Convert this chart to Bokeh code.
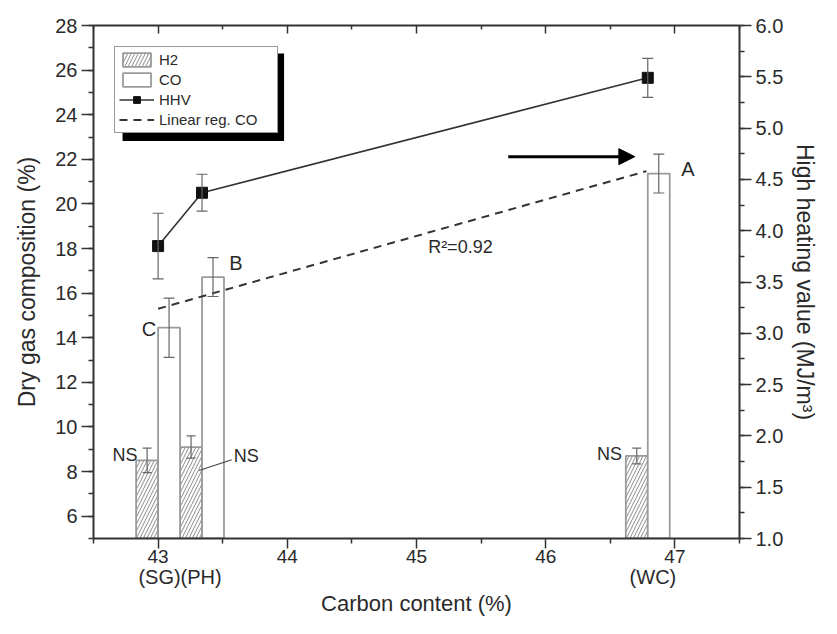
from bokeh.plotting import figure
from bokeh.models import (ColumnDataSource, Range1d, LinearAxis, FixedTicker, Whisker,
                          TeeHead, Label, Arrow, NormalHead, Legend, LegendItem,
                          PrintfTickFormatter)
from bokeh.transform import dodge
from bokeh.embed import file_html
from bokeh.resources import INLINE

# ---------------- data ----------------
samples = ["SG", "PH", "WC"]
carbon = [43.0, 43.34, 46.79]          # carbon content (%)
h2 = [8.5, 9.1, 8.7]                   # H2 (%)
h2_err = [0.55, 0.5, 0.35]
co = [14.45, 16.72, 21.36]             # CO (%)
co_err = [1.33, 0.87, 0.87]
hhv = [3.85, 4.37, 5.49]               # HHV (MJ/m3)
hhv_err = [0.32, 0.18, 0.19]
reg_x = [43.0, 46.78]                  # linear regression of CO
reg_y = [15.3, 21.47]

x_ticks = [43, 44, 45, 46, 47]
x_minor = [42.5, 43.5, 44.5, 45.5, 46.5, 47.5]
left_ticks = [6, 8, 10, 12, 14, 16, 18, 20, 22, 24, 26, 28]
left_minor = list(range(5, 29))
right_ticks = [1.0, 1.5, 2.0, 2.5, 3.0, 3.5, 4.0, 4.5, 5.0, 5.5, 6.0]
right_minor = [1.0 + 0.25 * i for i in range(21)]
cat_labels = {43.17: "(SG)(PH)", 46.83: "(WC)"}

# ---------------- styles ----------------
FONT = "Liberation Sans"
TXT = "#2a2a2a"
AX = "#333333"
BAR_W = 0.17
HALF = BAR_W / 2

src = ColumnDataSource(dict(
    carbon=carbon, h2=h2, co=co, hhv=hhv,
    h2_lo=[v - e for v, e in zip(h2, h2_err)], h2_hi=[v + e for v, e in zip(h2, h2_err)],
    co_lo=[v - e for v, e in zip(co, co_err)], co_hi=[v + e for v, e in zip(co, co_err)],
    hhv_lo=[v - e for v, e in zip(hhv, hhv_err)], hhv_hi=[v + e for v, e in zip(hhv, hhv_err)],
))

p = figure(width=821, height=618, output_backend="svg", toolbar_location=None,
           x_range=Range1d(42.5, 47.5), y_range=Range1d(5, 28),
           x_axis_location=None, y_axis_location=None,
           min_border_left=93, min_border_right=79, min_border_top=25, min_border_bottom=72)
p.extra_y_ranges = {"hhv": Range1d(1, 6)}
p.xgrid.visible = False
p.ygrid.visible = False
p.outline_line_color = None
p.background_fill_color = "white"


def style(ax, maj_in, maj_out, min_in, min_out):
    ax.axis_line_color = AX
    ax.axis_line_width = 2
    ax.major_tick_line_color = AX
    ax.minor_tick_line_color = AX
    ax.major_tick_line_width = 1.5
    ax.minor_tick_line_width = 1.5
    ax.major_tick_in = maj_in
    ax.major_tick_out = maj_out
    ax.minor_tick_in = min_in
    ax.minor_tick_out = min_out
    ax.major_label_text_font = FONT
    ax.major_label_text_font_size = "20px"
    ax.major_label_text_color = TXT
    ax.axis_label_text_font = FONT
    ax.axis_label_text_font_size = "23px"
    ax.axis_label_text_font_style = "normal"
    ax.axis_label_text_color = TXT


bottom = LinearAxis(ticker=FixedTicker(ticks=x_ticks, minor_ticks=x_minor))
style(bottom, 0, 10, 0, 5)
bottom.major_label_standoff = 1
bottom.major_label_text_font_size = "19px"
p.add_layout(bottom, "below")

# second row under the x axis: sample names + axis title
cat_axis = LinearAxis(ticker=FixedTicker(ticks=list(cat_labels.keys()), minor_ticks=[]),
                      major_label_overrides=cat_labels, axis_label="Carbon content (%)")
style(cat_axis, 0, 0, 0, 0)
cat_axis.axis_line_color = None
cat_axis.major_tick_line_color = None
cat_axis.minor_tick_line_color = None
cat_axis.major_label_standoff = 0
cat_axis.axis_label_standoff = 0
cat_axis.major_label_text_font_size = "20px"
cat_axis.axis_label_text_font_size = "22px"
p.add_layout(cat_axis, "below")

top = LinearAxis(ticker=FixedTicker(ticks=x_ticks, minor_ticks=x_minor))
style(top, 8, 0, 4, 0)
top.major_label_text_font_size = "1px"
top.major_label_text_color = None
top.major_label_standoff = 0
p.add_layout(top, "above")

left = LinearAxis(ticker=FixedTicker(ticks=left_ticks, minor_ticks=left_minor),
                  axis_label="Dry gas composition (%)")
style(left, 0, 12, 0, 5)
left.major_label_standoff = 4
left.axis_label_standoff = 12
p.add_layout(left, "left")

right = LinearAxis(y_range_name="hhv",
                   ticker=FixedTicker(ticks=right_ticks, minor_ticks=right_minor),
                   formatter=PrintfTickFormatter(format="%.1f"),
                   axis_label="High heating value (MJ/m³)")
style(right, 0, 12, 0, 5)
right.major_label_standoff = 4
right.axis_label_standoff = 6
p.add_layout(right, "right")

# legend shadow (decoration, placed behind the legend box)
p.quad(left=[42.725], right=[43.975], top=[26.75], bottom=[22.82],
       fill_color="black", line_color=None)

# bars
r_h2 = p.vbar(x=dodge("carbon", -HALF), top="h2", bottom=0, width=BAR_W, source=src,
              fill_color="white", line_color="#9a9a9a", line_width=1.8,
              hatch_pattern="/", hatch_color="#8a8a8a", hatch_scale=7, hatch_weight=1)
r_co = p.vbar(x=dodge("carbon", HALF), top="co", bottom=0, width=BAR_W, source=src,
              fill_color="white", line_color="#9a9a9a", line_width=1.8)

# regression line
r_reg = p.line(reg_x, reg_y, line_color="#333333", line_width=2, line_dash="8 6")

# HHV
r_hl = p.line("carbon", "hhv", source=src, y_range_name="hhv", line_color="#333333", line_width=1.6)
r_hs = p.scatter("carbon", "hhv", source=src, y_range_name="hhv", marker="square", size=11,
                 fill_color="#111111", line_color="#111111")


# error bars
def whisk(base, lo, hi, yr="default", size=10):
    w = Whisker(base=base, lower=lo, upper=hi, source=src, y_range_name=yr,
                line_color="#666666", line_width=1.2, level="annotation",
                upper_head=TeeHead(size=size, line_color="#666666", line_width=1.2),
                lower_head=TeeHead(size=size, line_color="#666666", line_width=1.2))
    p.add_layout(w)


whisk(dodge("carbon", -HALF), "h2_lo", "h2_hi", size=9)
whisk(dodge("carbon", HALF), "co_lo", "co_hi", size=11)
whisk("carbon", "hhv_lo", "hhv_hi", yr="hhv", size=11)

# legend
legend = Legend(items=[LegendItem(label="H2", renderers=[r_h2]),
                       LegendItem(label="CO", renderers=[r_co]),
                       LegendItem(label="HHV", renderers=[r_hl, r_hs]),
                       LegendItem(label="Linear reg. CO", renderers=[r_reg])],
                location="top_left", margin=21,
                border_line_color="#333333", border_line_width=1.2,
                background_fill_color="white", background_fill_alpha=1.0,
                label_text_font=FONT, label_text_font_size="15px", label_text_color=TXT,
                glyph_width=35, glyph_height=17, label_height=17, label_width=114,
                spacing=3, padding=4, label_standoff=5)
p.add_layout(legend)


# text annotations
def lab(x, y, text, align="left", size="19px"):
    p.add_layout(Label(x=x, y=y, text=text, text_align=align, text_baseline="middle",
                       text_font=FONT, text_font_size=size, text_color=TXT))


lab(47.05, 21.56, "A", size="20px")
lab(43.55, 17.33, "B", size="20px")
lab(42.985, 14.41, "C", align="right", size="20px")
lab(42.84, 8.75, "NS", align="right", size="18px")
lab(43.585, 8.70, "NS", size="18px")
lab(46.59, 8.79, "NS", align="right", size="18px")
lab(45.09, 18.07, "R²=0.92", size="18px")

# NS leader line and the arrow
p.add_layout(Arrow(end=None, x_start=43.317, y_start=8.05, x_end=43.57, y_end=8.53,
                   line_color="#444444", line_width=1.2))
p.add_layout(Arrow(end=NormalHead(size=16, fill_color="black", line_color="black"),
                   x_start=45.71, y_start=22.12, x_end=46.69, y_end=22.12,
                   line_color="black", line_width=3))

open("out.html", "w").write(file_html(p, INLINE))
